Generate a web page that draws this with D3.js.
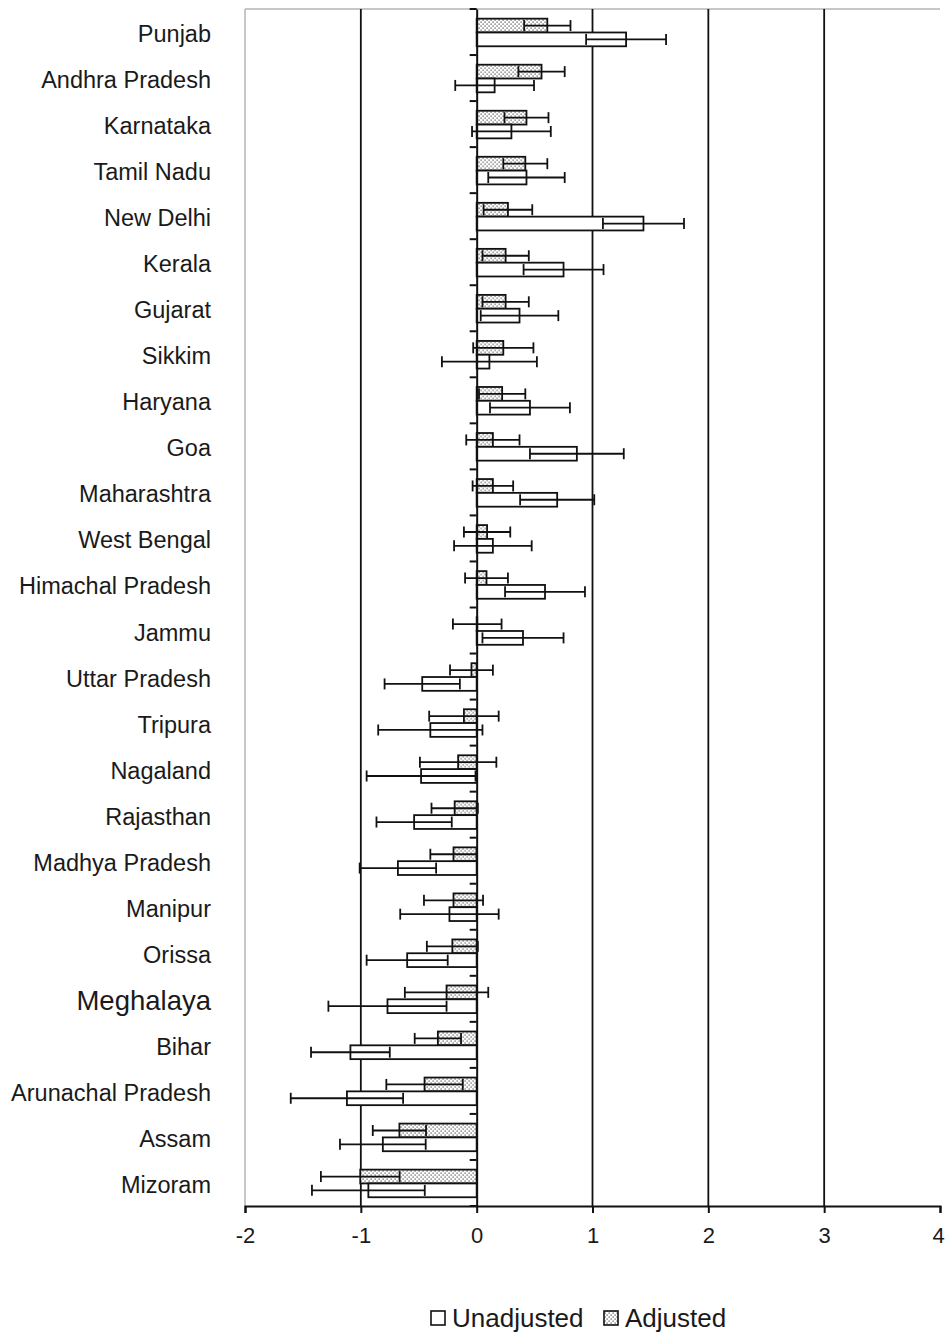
<!DOCTYPE html>
<html>
<head>
<meta charset="utf-8">
<script src="https://cdn.jsdelivr.net/npm/d3@7"></script>
<style>
  html, body { margin: 0; padding: 0; background: #fff; }
  svg { display: block; font-family: "Liberation Sans", Arial, sans-serif; }
</style>
</head>
<body>
<div id="chart"></div>
<script>
// State-level estimates with half-width of the 95% interval
const states = ["Punjab", "Andhra Pradesh", "Karnataka", "Tamil Nadu", "New Delhi", "Kerala",
  "Gujarat", "Sikkim", "Haryana", "Goa", "Maharashtra", "West Bengal", "Himachal Pradesh",
  "Jammu", "Uttar Pradesh", "Tripura", "Nagaland", "Rajasthan", "Madhya Pradesh", "Manipur",
  "Orissa", "Meghalaya", "Bihar", "Arunachal Pradesh", "Assam", "Mizoram"];

const adjusted = [0.61, 0.56, 0.43, 0.42, 0.27, 0.25, 0.25, 0.23, 0.22, 0.14, 0.14, 0.09, 0.085,
  0.005, -0.045, -0.11, -0.16, -0.19, -0.2, -0.2, -0.21, -0.26, -0.335, -0.45, -0.667, -1.005];
const adjustedErr = [0.2, 0.2, 0.19, 0.19, 0.21, 0.2, 0.2, 0.26, 0.2, 0.23, 0.175, 0.2, 0.185,
  0.21, 0.185, 0.3, 0.33, 0.2, 0.2, 0.255, 0.22, 0.36, 0.2, 0.33, 0.23, 0.34];

const unadjusted = [1.29, 0.155, 0.30, 0.43, 1.44, 0.75, 0.37, 0.11, 0.46, 0.865, 0.695, 0.14, 0.59,
  0.40, -0.47, -0.40, -0.48, -0.54, -0.68, -0.235, -0.6, -0.77, -1.09, -1.12, -0.81, -0.935];
const unadjustedErr = [0.345, 0.34, 0.34, 0.33, 0.35, 0.345, 0.335, 0.41, 0.345, 0.405, 0.32, 0.335, 0.345,
  0.35, 0.325, 0.45, 0.47, 0.325, 0.33, 0.425, 0.35, 0.51, 0.34, 0.485, 0.37, 0.487];

const xTicks = [-2, -1, 0, 1, 2, 3, 4];
const gridValues = [-1, 1, 2, 3];
const seriesNames = ["Adjusted", "Unadjusted"];

const W = 947, H = 1337;
const plot = { left: 245, right: 940, top: 9, bottom: 1206 };

const svg = d3.select("#chart").append("svg")
  .attr("width", W).attr("height", H);

// fine dot fill for the adjusted series
const defs = svg.append("defs");
const pat = defs.append("pattern")
  .attr("id", "dots").attr("patternUnits", "userSpaceOnUse")
  .attr("width", 4).attr("height", 4);
pat.append("rect").attr("width", 4).attr("height", 4).attr("fill", "#fff");
pat.append("rect").attr("x", 0.5).attr("y", 0.5).attr("width", 1.2).attr("height", 1.2).attr("fill", "#444");
pat.append("rect").attr("x", 2.5).attr("y", 2.5).attr("width", 1.2).attr("height", 1.2).attr("fill", "#444");

const x = d3.scaleLinear().domain([-2, 4]).range([plot.left, plot.right]);
const y = d3.scaleBand().domain(states).range([plot.top, plot.bottom]).padding(0);
const ySub = d3.scaleBand().domain(seriesNames)
  .range([y.bandwidth() * 0.21, y.bandwidth() * 0.81]).padding(0);

// plot-area frame (light)
svg.append("line")
  .attr("x1", plot.left).attr("x2", plot.right)
  .attr("y1", plot.top).attr("y2", plot.top)
  .attr("stroke", "#b5b5b5").attr("stroke-width", 1.5);
svg.append("line")
  .attr("x1", plot.left).attr("x2", plot.left)
  .attr("y1", plot.top).attr("y2", plot.bottom)
  .attr("stroke", "#b5b5b5").attr("stroke-width", 1.5);

// vertical gridlines
svg.append("g").selectAll("line").data(gridValues).join("line")
  .attr("x1", d => x(d)).attr("x2", d => x(d))
  .attr("y1", plot.top).attr("y2", plot.bottom)
  .attr("stroke", "#111").attr("stroke-width", 1.8);

// rows of data
const rows = states.map((s, i) => ({
  state: s,
  series: [
    { name: "Adjusted", value: adjusted[i], err: adjustedErr[i] },
    { name: "Unadjusted", value: unadjusted[i], err: unadjustedErr[i] }
  ]
}));

const groups = svg.append("g").selectAll("g").data(rows).join("g")
  .attr("transform", d => `translate(0,${y(d.state)})`);

groups.selectAll("rect").data(d => d.series).join("rect")
  .attr("x", d => x(Math.min(0, d.value)))
  .attr("width", d => Math.abs(x(d.value) - x(0)))
  .attr("y", d => ySub(d.name))
  .attr("height", ySub.bandwidth())
  .attr("fill", d => d.name === "Adjusted" ? "url(#dots)" : "#fff")
  .attr("stroke", "#111").attr("stroke-width", 1.8);

// error bars
const capH = 11;
const eb = groups.selectAll("g.err").data(d => d.series).join("g").attr("class", "err")
  .attr("transform", d => `translate(0,${ySub(d.name) + ySub.bandwidth() / 2})`)
  .attr("stroke", "#111").attr("stroke-width", 1.8);
eb.append("line")
  .attr("x1", d => x(d.value - d.err)).attr("x2", d => x(d.value + d.err))
  .attr("y1", 0).attr("y2", 0);
eb.append("line")
  .attr("x1", d => x(d.value - d.err)).attr("x2", d => x(d.value - d.err))
  .attr("y1", -capH / 2).attr("y2", capH / 2);
eb.append("line")
  .attr("x1", d => x(d.value + d.err)).attr("x2", d => x(d.value + d.err))
  .attr("y1", -capH / 2).attr("y2", capH / 2);

// zero axis with category tick marks
const yAxis = d3.axisLeft(y).tickSize(0).tickFormat("");
svg.append("g").attr("transform", `translate(${x(0)},0)`).call(yAxis)
  .call(g => g.select(".domain").attr("stroke", "#111").attr("stroke-width", 2));
const boundaries = states.map(s => y(s)).concat([plot.bottom]);
svg.append("g").selectAll("line").data(boundaries).join("line")
  .attr("x1", x(0) - 7).attr("x2", x(0))
  .attr("y1", d => d).attr("y2", d => d)
  .attr("stroke", "#111").attr("stroke-width", 2);

// category labels
svg.append("g").selectAll("text").data(states).join("text")
  .attr("x", 211)
  .attr("y", d => y(d) + y.bandwidth() / 2 + 2)
  .attr("text-anchor", "end")
  .attr("dominant-baseline", "central")
  .attr("font-size", d => d === "Meghalaya" ? 27.5 : 23.5)
  .attr("fill", "#1a1a1a")
  .text(d => d);

// bottom axis
const xAxis = d3.axisBottom(x).tickValues(xTicks).tickSize(7).tickPadding(14)
  .tickFormat(d3.format("d"));
svg.append("g").attr("transform", `translate(0,${plot.bottom})`).call(xAxis)
  .call(g => g.select(".domain").attr("stroke", "#111").attr("stroke-width", 2))
  .call(g => g.selectAll(".tick line").attr("stroke", "#111").attr("stroke-width", 2))
  .call(g => g.selectAll(".tick text")
    .attr("font-size", 22).attr("fill", "#1a1a1a")
    .attr("font-family", "'Liberation Sans', Arial, sans-serif")
    .attr("dx", d => d === 4 ? -2 : 0)
    .text(d => d < 0 ? "-" + Math.abs(d) : d));

// legend
const legend = svg.append("g");
const legendItems = [
  { name: "Unadjusted", x: 431 },
  { name: "Adjusted", x: 604 }
];
legendItems.forEach(it => {
  legend.append("rect")
    .attr("x", it.x).attr("y", 1311).attr("width", 14).attr("height", 14)
    .attr("fill", it.name === "Adjusted" ? "url(#dots)" : "#fff")
    .attr("stroke", "#111").attr("stroke-width", 1.6);
  legend.append("text")
    .attr("x", it.x + 21).attr("y", 1318)
    .attr("dominant-baseline", "central")
    .attr("font-size", 26).attr("fill", "#1a1a1a")
    .text(it.name);
});
</script>
</body>
</html>
